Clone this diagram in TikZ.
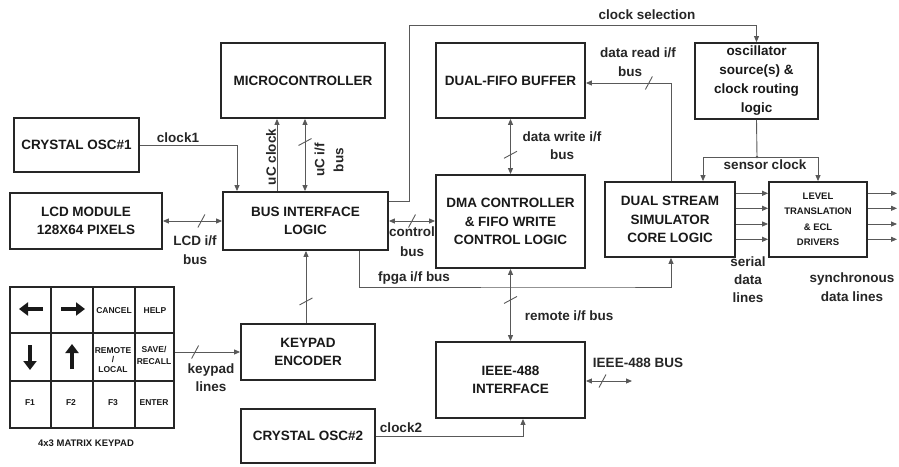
\documentclass[tikz,border=0pt]{standalone}
\usepackage{fontspec}
\setmainfont{Liberation Sans}
\usetikzlibrary{arrows.meta}
\begin{document}
\begin{tikzpicture}[x=1pt,y=-1pt,
  box/.style={draw=black!85, line width=1.8pt, fill=white, align=center,
    font=\bfseries\fontsize{13.5}{18.5}\selectfont, text=black!90, inner sep=0pt},
  conn/.style={draw=black!65, line width=0.9pt},
  arr/.style={-{Triangle[length=6pt,width=5pt]}},
  darr/.style={{Triangle[length=6pt,width=5pt]}-{Triangle[length=6pt,width=5pt]}},
  lbl/.style={font=\bfseries\fontsize{13.5}{19}\selectfont, text=black!85, align=center, inner sep=0pt},
  keytxt/.style={font=\bfseries\fontsize{8.5}{9.5}\selectfont, text=black!90, align=center, inner sep=0pt},
  keyarrow/.style={draw=black!90, line width=4.5pt, -{Triangle[length=9pt,width=13pt]}},
  hslash/.pic={\draw[-, black!65, line width=0.9pt] (-3.5,6.5) -- (3.5,-6.5);},
  vslash/.pic={\draw[-, black!65, line width=0.9pt] (-6.5,3.5) -- (6.5,-3.5);},
]
\useasboundingbox (0,0) rectangle (899,466);

% boxes
\node[box, minimum width=125pt, minimum height=54pt] (osc1) at (76.5,145) {CRYSTAL OSC\#1};
\node[box, minimum width=152pt, minimum height=56pt] (lcd) at (86,221) {LCD MODULE\\128X64 PIXELS};
\node[box, minimum width=164pt, minimum height=75pt] (micro) at (303,80.5) {MICROCONTROLLER};
\node[box, minimum width=165pt, minimum height=58pt] (bil) at (305.5,221) {BUS INTERFACE\\LOGIC};
\node[box, minimum width=149pt, minimum height=75pt] (fifo) at (510.5,80.5) {DUAL-FIFO BUFFER};
\node[box, minimum width=149pt, minimum height=93pt] (dma) at (510.5,221.5) {DMA CONTROLLER\\\& FIFO WRITE\\CONTROL LOGIC};
\node[box, minimum width=123pt, minimum height=76pt, font=\bfseries\fontsize{13.5}{19}\selectfont] (osc) at (756.5,81) {oscillator\\source(s) \&\\clock routing\\logic};
\node[box, minimum width=130pt, minimum height=75pt] (dss) at (670,219.5) {DUAL STREAM\\SIMULATOR\\CORE LOGIC};
\node[box, minimum width=98pt, minimum height=75pt, font=\bfseries\fontsize{9.5}{15.5}\selectfont] (lvl) at (818,219.5) {LEVEL\\TRANSLATION\\\& ECL\\DRIVERS};
\node[box, minimum width=134pt, minimum height=56pt] (kpe) at (308,352) {KEYPAD\\ENCODER};
\node[box, minimum width=134pt, minimum height=54pt] (osc2) at (308,436) {CRYSTAL OSC\#2};
\node[box, minimum width=149pt, minimum height=76pt] (ieee) at (510.5,380) {IEEE-488\\INTERFACE};

% keypad
\node[draw=black!85, line width=1.8pt, minimum width=164pt, minimum height=141pt, inner sep=0pt] (kp) at (92,357.5) {};
\draw[black!85, line width=1.4pt] (51,287) -- (51,428) (93,287) -- (93,428) (135,287) -- (135,428)
  (10,333) -- (174,333) (10,381) -- (174,381);
\draw[keyarrow] (43,309) -- (19,309);
\draw[keyarrow] (61,309) -- (85,309);
\draw[keyarrow] (30,345) -- (30,370);
\draw[keyarrow] (72,369) -- (72,344);
\node[keytxt] (kcancel) at (114,311) {CANCEL};
\node[keytxt] (khelp) at (155,311) {HELP};
\node[keytxt] (kremote) at (113,360) {REMOTE\\/\\LOCAL};
\node[keytxt, font=\bfseries\fontsize{8.5}{12}\selectfont] (ksave) at (154,355) {SAVE/\\RECALL};
\node[keytxt] (kf1) at (30,403) {F1};
\node[keytxt] (kf2) at (71,403) {F2};
\node[keytxt] (kf3) at (113,403) {F3};
\node[keytxt] (kenter) at (154,403) {ENTER};
\node[keytxt, font=\bfseries\fontsize{9.5}{11}\selectfont] (kptitle) at (86,443) {4x3 MATRIX KEYPAD};

% connectors
\draw[conn,arr] (osc1.east) -| ([xshift=-68.5pt]bil.north);
\draw[conn,darr] (lcd.east) -- (bil.west) pic[pos=0.65]{hslash};
\draw[conn,arr] ([xshift=-28.5pt]bil.north) -- ([xshift=-26pt]micro.south);
\draw[conn,darr] ([xshift=-0.5pt]bil.north) -- ([xshift=2pt]micro.south) pic[pos=0.68]{vslash};
\draw[conn,arr] ([yshift=20pt]bil.east) -| (409,25) -| (osc.north);
\draw[conn,darr] (fifo.south) -- (dma.north) pic[pos=0.65]{vslash};
\draw[conn,darr] (bil.east) -- (dma.west |- bil.east) pic[pos=0.5]{hslash};
\draw[conn,arr] ([xshift=53.5pt]bil.south) |- (600,287) -| ([xshift=1pt]dss.south);
\draw[conn,darr] (dma.south) -- (ieee.north) pic[pos=0.43]{vslash};
\draw[conn,arr] (osc2.east) -| ([xshift=12.5pt]ieee.south);
\coordinate (ieeebus) at (632,381);
\draw[conn,darr] (ieee.east |- ieeebus) -- (ieeebus) pic[pos=0.36]{hslash};
\draw[conn,arr] (kp.east |- kpe.west) -- (kpe.west) pic[pos=0.31]{hslash};
\draw[conn,arr] ([xshift=-2pt]kpe.north) -- ([xshift=0.5pt]bil.south) pic[pos=0.3]{vslash};
\draw[conn,arr] ([xshift=1pt]dss.north) |- ([yshift=-2.5pt]fifo.east) pic[pos=0.63]{hslash};
\coordinate (sc) at (757,157);
\draw[conn] (osc.south) -- (sc);
\draw[conn,arr] (sc) -| ([xshift=33pt]dss.north);
\draw[conn,arr] (sc) -| (lvl.north);
\fill[black!65] (sc) circle (1.3pt);
\foreach \yy [count=\i] in {193.3,208.3,224,239.3} {
  \coordinate (out\i) at (897,\yy);
  \draw[conn,arr] (dss.east |- out\i) -- (lvl.west |- out\i);
  \draw[conn,arr] (lvl.east |- out\i) -- (out\i);
}

% labels
\node[lbl] (lclock1) at (178,138) {clock1};
\node[lbl] (llcd) at (195,250) {LCD i/f\\bus};
\node[lbl, rotate=90] (lucclk) at (271,157) {uC clock};
\node[lbl, rotate=90] (lucif) at (329,160) {uC i/f\\bus};
\node[lbl] (lclksel) at (647,15) {clock selection};
\node[lbl, font=\bfseries\fontsize{13.5}{18}\selectfont] (ldw) at (562,146) {data write i/f\\bus};
\node[lbl, font=\bfseries\fontsize{13.5}{20}\selectfont] (lctl) at (412,242) {control\\bus};
\node[lbl] (lfpga) at (414,278) {fpga i/f bus};
\node[lbl] (lrem) at (569,316) {remote i/f bus};
\node[lbl] (lclk2) at (401,428) {clock2};
\node[lbl] (lieee) at (638,363) {IEEE-488 BUS};
\node[lbl, font=\bfseries\fontsize{13.5}{18}\selectfont] (lkey) at (211,378) {keypad\\lines};
\node[lbl] (ldr1) at (638,53) {data read i/f};
\node[lbl] (ldr2) at (630,72) {bus};
\node[lbl] (lsens) at (765,165) {sensor clock};
\node[lbl, font=\bfseries\fontsize{13.5}{18}\selectfont] (lser) at (748,280) {serial\\data\\lines};
\node[lbl] (lsync) at (852,287.5) {synchronous\\data lines};
\end{tikzpicture}
\end{document}
